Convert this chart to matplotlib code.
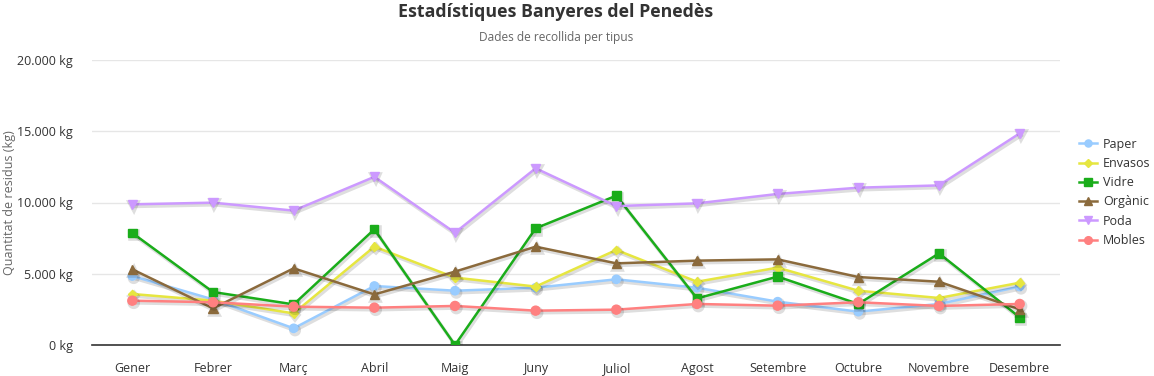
import matplotlib.pyplot as plt
import matplotlib.patheffects as pe
from matplotlib.ticker import FuncFormatter

plt.rcParams['font.family'] = ['Open Sans', 'DejaVu Sans']

months = ["Gener", "Febrer", "Març", "Abril", "Maig", "Juny", "Juliol",
          "Agost", "Setembre", "Octubre", "Novembre", "Desembre"]

paper = [4840, 3200, 1170, 4140, 3810, 4020, 4610, 4020, 3040, 2340, 2880, 4100]
envasos = [3580, 3110, 2220, 6900, 4730, 4100, 6670, 4440, 5430, 3810, 3300, 4370]
vidre = [7860, 3720, 2850, 8120, 0, 8190, 10480, 3270, 4800, 2880, 6430, 1940]
organic = [5310, 2570, 5380, 3550, 5150, 6900, 5730, 5920, 6010, 4770, 4440, 2500]
poda = [9870, 9990, 9430, 11800, 7880, 12400, 9750, 9940, 10600, 11040, 11200, 14850]
mobles = [3110, 3000, 2690, 2620, 2740, 2410, 2480, 2880, 2760, 3000, 2740, 2880]

series = [
    ("Paper", paper, "#99ccff", "o", 6),
    ("Envasos", envasos, "#e6e640", "D", 4.5),
    ("Vidre", vidre, "#1aad1a", "s", 6),
    ("Orgànic", organic, "#8b6a3c", "^", 6.5),
    ("Poda", poda, "#cc99ff", "v", 6.5),
    ("Mobles", mobles, "#ff8080", "o", 6.5),
]

fig = plt.figure(figsize=(11.54, 3.76), dpi=100)
ax = fig.add_axes([92 / 1154, 1 - 345 / 376, (1060 - 92) / 1154, (345 - 60) / 376])

x = list(range(len(months)))
shadow = [pe.SimpleLineShadow(offset=(1, -1.5), shadow_color="black", alpha=0.13, linewidth=2.6), pe.Normal()]
for name, vals, color, marker, ms in series:
    ax.plot(x, vals, color=color, marker=marker, markersize=ms, linewidth=1.8,
            label=name, path_effects=shadow, zorder=3)

ax.set_xlim(-0.5, len(months) - 0.5)
ax.set_ylim(0, 20000)
ax.set_yticks([0, 5000, 10000, 15000, 20000])
ax.yaxis.set_major_formatter(FuncFormatter(lambda v, p: f"{int(v):,} kg".replace(",", ".")))
ax.set_xticks(x)
ax.set_xticklabels(months)
ax.grid(axis="y", color="#e6e6e6", linewidth=1)
ax.set_axisbelow(True)
for s in ["top", "right", "left"]:
    ax.spines[s].set_visible(False)
ax.spines["bottom"].set_color("#333333")
ax.spines["bottom"].set_linewidth(1.2)
ax.tick_params(axis="both", length=0, labelsize=9, colors="#333333")
ax.tick_params(axis="x", pad=12)
ax.tick_params(axis="y", pad=14)

ax.set_ylabel("Quantitat de residus (kg)", fontsize=9, color="#666666")
ax.yaxis.set_label_coords(-76 / 968, 0.5)

fig.text(556 / 1154, 1 - 12 / 376, "Estadístiques Banyeres del Penedès", ha="center", va="center",
         fontsize=12.8, fontweight="bold", color="#333333")
fig.text(556 / 1154, 1 - 37 / 376, "Dades de recollida per tipus", ha="center", va="center",
         fontsize=8.6, color="#666666")

leg = ax.legend(loc="upper left", bbox_to_anchor=(1.014, 0.745), frameon=False,
                fontsize=9, handlelength=1.5, handletextpad=0.45, labelspacing=0.5,
                borderaxespad=0, markerscale=0.85)
for t in leg.get_texts():
    t.set_color("#333333")
for h in leg.legend_handles:
    h.set_path_effects([])

fig.savefig("out.png", dpi=100)
